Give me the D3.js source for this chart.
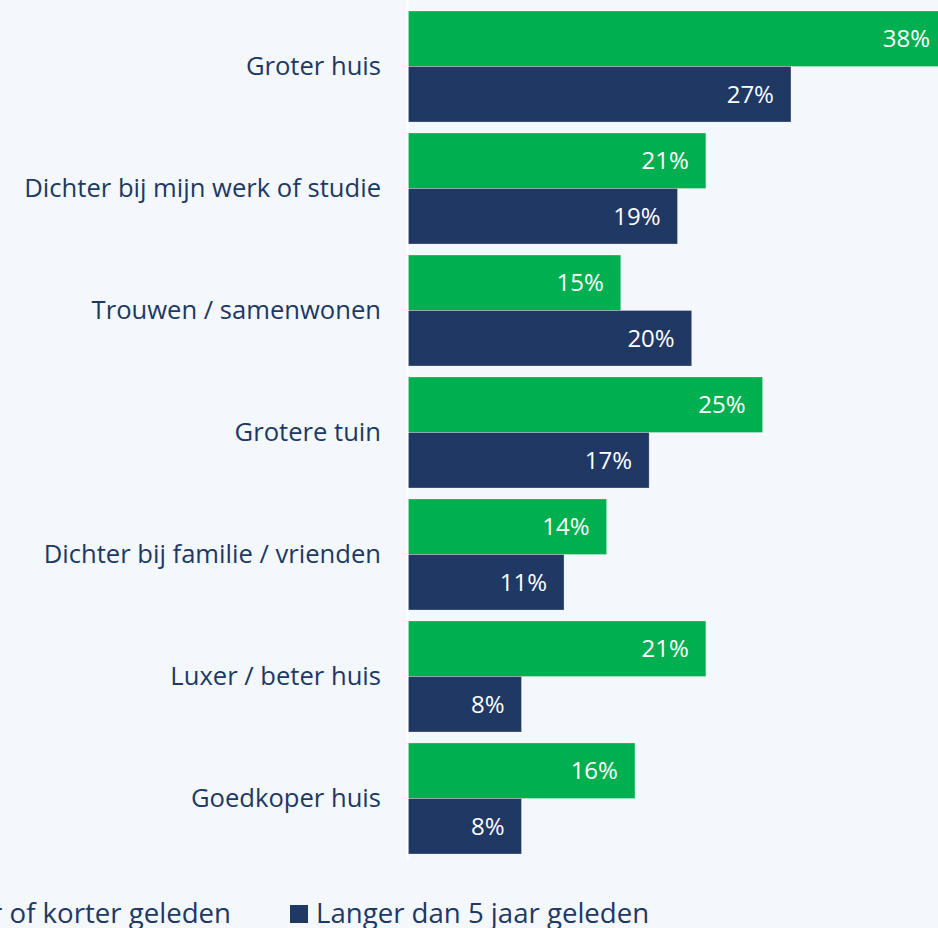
<!DOCTYPE html>
<html>
<head>
<meta charset="utf-8">
<script src="https://cdn.jsdelivr.net/npm/d3@7"></script>
<style>
  html, body { margin: 0; padding: 0; background: #f4f8fc; }
  svg { display: block; }
</style>
</head>
<body>
<div id="chart"></div>
<script>
// Data
const categories = [
    "Groter huis",
    "Dichter bij mijn werk of studie",
    "Trouwen / samenwonen",
    "Grotere tuin",
    "Dichter bij familie / vrienden",
    "Luxer / beter huis",
    "Goedkoper huis"
]
const recent = [38, 21, 15, 25, 14, 21, 16]
const older = [27, 19, 20, 17, 11, 8, 8]
const seriesNames = ["5 jaar of korter geleden", "Langer dan 5 jaar geleden"]
const seriesColors = ["#00b050", "#203864"]

// Constants
const width = 938
const height = 928
const margin = { top: 0, left: 408 }
const fontFamily = "'Open Sans', sans-serif"
const textColor = "#203864"

const svg = d3.select("#chart")
    .append("svg")
    .attr("width", width)
    .attr("height", height)

svg.append("rect")
    .attr("width", width)
    .attr("height", height)
    .attr("fill", "#f4f8fc")

const elementGroup = svg.append("g")
    .attr("transform", `translate(${margin.left}, ${margin.top})`)

// Scales
const x = d3.scaleLinear()
    .domain([0, 38])
    .range([0, 539])

const y = d3.scaleBand()
    .domain(categories)
    .range([11, 854])
    .paddingInner(0.09)
    .paddingOuter(0)

const y1 = d3.scaleBand()
    .domain([0, 1])
    .range([0, y.bandwidth()])

const rows = categories.map((c, i) => ({ cat: c, vals: [recent[i], older[i]] }))

const groups = elementGroup.selectAll(".group")
    .data(rows)
    .enter()
    .append("g")
    .attr("class", "group")
    .attr("transform", d => `translate(0, ${y(d.cat)})`)

groups.selectAll("rect")
    .data(d => d.vals.map((v, k) => ({ v, k })))
    .enter()
    .append("rect")
    .attr("x", 0)
    .attr("y", d => y1(d.k))
    .attr("width", d => x(d.v))
    .attr("height", y1.bandwidth())
    .attr("fill", d => seriesColors[d.k])
    .attr("stroke", "#ffffff")
    .attr("stroke-opacity", 0.35)
    .attr("stroke-width", 0.8)

groups.selectAll(".val")
    .data(d => d.vals.map((v, k) => ({ v, k })))
    .enter()
    .append("text")
    .attr("class", "val")
    .attr("x", d => x(d.v) - 17)
    .attr("y", d => y1(d.k) + y1.bandwidth() / 2)
    .attr("dy", "0.36em")
    .attr("text-anchor", "end")
    .style("font-family", fontFamily)
    .style("font-size", "24px")
    .style("fill", "#ffffff")
    .text(d => d.v + "%")

// Axis line
elementGroup.append("line")
    .attr("x1", -0.5).attr("x2", -0.5)
    .attr("y1", 0).attr("y2", 860)
    .attr("stroke", "#ffffff")
    .attr("stroke-width", 2)

// Category labels
elementGroup.selectAll(".cat")
    .data(categories)
    .enter()
    .append("text")
    .attr("class", "cat")
    .attr("x", -27)
    .attr("y", d => y(d) + y.bandwidth() / 2)
    .attr("dy", "0.35em")
    .attr("text-anchor", "end")
    .style("font-family", fontFamily)
    .style("font-size", "25.6px")
    .style("fill", textColor)
    .text(d => d)

// Legend
const legend = svg.append("g")
const legY = 913
const item2 = legend.append("g").attr("transform", "translate(290, 0)")
item2.append("rect")
    .attr("x", 0).attr("y", legY - 8)
    .attr("width", 18).attr("height", 18)
    .attr("fill", seriesColors[1])
item2.append("text")
    .attr("x", 26).attr("y", legY)
    .attr("dy", "0.35em")
    .style("font-family", fontFamily)
    .style("font-size", "27.6px")
    .style("fill", textColor)
    .text(seriesNames[1])

const item1 = legend.append("g")
const t1 = item1.append("text")
    .attr("x", 231).attr("y", legY)
    .attr("dy", "0.35em")
    .attr("text-anchor", "end")
    .style("font-family", fontFamily)
    .style("font-size", "27.6px")
    .style("fill", textColor)
    .text(seriesNames[0])
const len1 = t1.node().getComputedTextLength()
item1.append("rect")
    .attr("x", 231 - len1 - 26).attr("y", legY - 8)
    .attr("width", 18).attr("height", 18)
    .attr("fill", seriesColors[0])
</script>
</body>
</html>
